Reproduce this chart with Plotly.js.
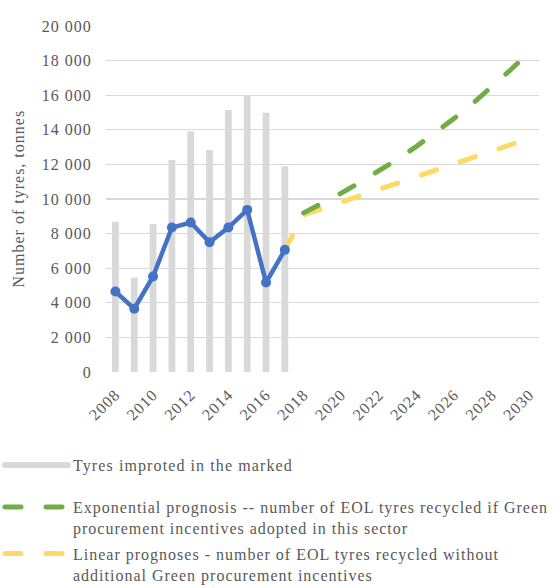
<!DOCTYPE html>
<html><head><meta charset="utf-8">
<script src="https://cdn.plot.ly/plotly-3.0.1.min.js"></script>
<style>
html,body{margin:0;padding:0;background:#fff;}
#chart .main-svg text{letter-spacing:1px;}
#chart .main-svg .legendtext{letter-spacing:1.1px;}
#chart .scrollbox{clip-path:none !important;}
#chart .scatterlayer .js-line, #chart .legend .js-line, #chart .legend2 .js-line{stroke-linecap:round;}
</style>
</head><body><div id="chart" style="width:560px;height:588px;"></div>
<script>
const importYears = [2008, 2009, 2010, 2011, 2012, 2013, 2014, 2015, 2016, 2017];
const importedTonnes = [8690, 5460, 8560, 12250, 13920, 12830, 15140, 15960, 14980, 11900];
const recycledYears = [2008, 2009, 2010, 2011, 2012, 2013, 2014, 2015, 2016, 2017];
const recycledTonnes = [4650, 3660, 5520, 8350, 8640, 7500, 8350, 9370, 5170, 7060];
const expYears = [2018, 2019, 2020, 2021, 2022, 2023, 2024, 2025, 2026, 2027, 2028, 2029, 2030];
const expTonnes = [9200, 9750, 10340, 10960, 11620, 12310, 13050, 13830, 14660, 15540, 16480, 17470, 18510];
const linYears = [2017, 2018, 2019, 2020, 2021, 2022, 2023, 2024, 2025, 2026, 2027, 2028, 2029, 2030];
const linTonnes = [7060, 9080, 9450, 9820, 10190, 10560, 10930, 11300, 11660, 12030, 12400, 12770, 13140, 13510];
const xTickYears = [2008, 2010, 2012, 2014, 2016, 2018, 2020, 2022, 2024, 2026, 2028, 2030];
const yTickValues = [0, 2000, 4000, 6000, 8000, 10000, 12000, 14000, 16000, 18000, 20000];
const yTitle = 'Number of tyres, tonnes';

const names = {
  imported: 'Tyres improted in the marked',
  exp: 'Exponential prognosis -- number of EOL tyres recycled if Green<br>procurement incentives adopted in this sector',
  lin: 'Linear prognoses - number of EOL tyres recycled without<br>additional Green procurement incentives'
};

const gray = '#d9d9d9', blue = '#4472c4', green = '#70ad47', yellow = '#ffd966', txt = '#595959';
const family = 'Liberation Serif, Times New Roman, serif';
const font = {family: family, size: 16, color: txt};
const legendFont = {family: family, size: 16, color: txt};

const traces = [
  {type: 'bar', x: importYears, y: importedTonnes, width: 0.36, marker: {color: gray}, showlegend: false, hoverinfo: 'x+y'},
  {type: 'scatter', mode: 'lines', x: [null], y: [null], name: names.imported, line: {color: gray, width: 6}, legend: 'legend', legendgroup: 'imp'},
  {type: 'scatter', mode: 'lines', x: linYears, y: linTonnes, name: names.lin, line: {color: yellow, width: 5, dash: '16px,25px'}, legend: 'legend2', legendgroup: 'lin', legendrank: 2},
  {type: 'scatter', mode: 'lines', x: expYears, y: expTonnes, name: names.exp, line: {color: green, width: 5, dash: '16px,25px'}, legend: 'legend2', legendgroup: 'exp', legendrank: 1},
  {type: 'scatter', mode: 'lines+markers', x: recycledYears, y: recycledTonnes, name: 'Recycled', line: {color: blue, width: 4.5}, marker: {color: blue, size: 10}, showlegend: false}
];

const W = 560, H = 588;
const M = {l: 106, r: 21, t: 26, b: 216};

const legendBase = {xref: 'container', yref: 'container', xanchor: 'left', x: 0, itemwidth: 63, valign: 'top',
  bgcolor: 'rgba(0,0,0,0)', font: legendFont, borderwidth: 0};

const layout = {
  width: W, height: H,
  margin: {l: M.l, r: M.r, t: M.t, b: M.b, pad: 0, autoexpand: false},
  paper_bgcolor: '#fff', plot_bgcolor: '#fff',
  font: font,
  separators: ', ',
  xaxis: {range: [2007.5, 2030.5], tickvals: xTickYears, tickangle: -45,
    showgrid: false, zeroline: false, showline: false, ticks: 'outside', ticklen: 6, tickcolor: 'rgba(0,0,0,0)',
    tickfont: font, fixedrange: true},
  yaxis: {range: [0, 20000], tickvals: yTickValues, tickformat: ',d',
    showgrid: true, gridcolor: gray, gridwidth: 1.3, zeroline: false, showline: false, ticks: 'outside', ticklen: 10,
    tickcolor: 'rgba(0,0,0,0)', tickfont: font, fixedrange: true},
  annotations: [{text: yTitle, textangle: -90, font: font, showarrow: false,
    xref: 'paper', yref: 'paper', x: (19 - M.l) / (W - M.l - M.r), y: 0.5, xanchor: 'center', yanchor: 'middle'}],
  legend: Object.assign({}, legendBase, {y: 1 - 465 / H, yanchor: 'middle', traceorder: 'normal'}),
  legend2: Object.assign({}, legendBase, {y: 1 - 490 / H, yanchor: 'top', traceorder: 'grouped', tracegroupgap: 2}),
  showlegend: true
};

Plotly.newPlot('chart', traces, layout, {displayModeBar: false, staticPlot: true});
</script>
</body></html>
